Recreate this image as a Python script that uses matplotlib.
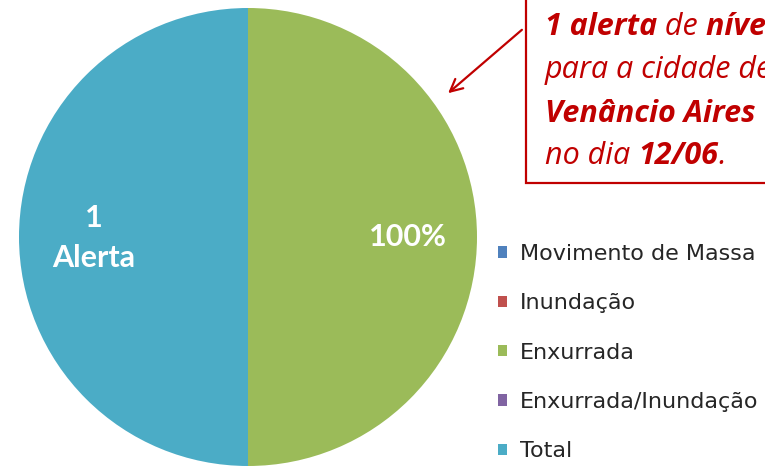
import matplotlib
matplotlib.use("Agg")
import matplotlib.pyplot as plt
from matplotlib.patches import Rectangle

categories = ['Movimento de Massa', 'Inundação', 'Enxurrada', 'Enxurrada/Inundação', 'Total']
values = [0, 0, 1, 0, 1]
colors = ['#4F81BD', '#C0504D', '#9BBB59', '#8064A2', '#4BACC6']
slice_labels = ['', '', '100%', '', '1\nAlerta']

W, H = 765, 468
fig = plt.figure(figsize=(W / 100, H / 100), dpi=100)
ax = fig.add_axes([0, 0, 1, 1])

def Y(y):
    return H - y

cx, cy, r = 248, 237, 229
wedges, texts = ax.pie(values, colors=colors, labels=slice_labels, startangle=90,
                       counterclock=False, center=(cx, Y(cy)), radius=r,
                       labeldistance=0.70, frame=True,
                       textprops=dict(color='white', fontsize=22, fontweight='bold',
                                      family='Lato', linespacing=1.55),
                       wedgeprops=dict(linewidth=0))
ax.set_xlim(0, W)
ax.set_ylim(0, H)
ax.set_aspect('equal')
ax.axis('off')
for t in texts:
    t.set_ha('center')
    t.set_va('center')
    if '\n' in t.get_text():
        x0, y0 = t.get_position()
        t.set_position((x0 + 6, y0 - 1))

leg = ax.legend(wedges, categories, loc='upper left',
                bbox_to_anchor=(498, Y(244)), bbox_transform=ax.transData,
                frameon=False, prop=dict(family='DejaVu Sans', size=16),
                handlelength=0.4, handleheight=0.4, handletextpad=0.6,
                labelspacing=1.32, borderpad=0, borderaxespad=0)
for t in leg.get_texts():
    t.set_color('#262626')

red = '#C00000'
ax.add_patch(Rectangle((526, Y(183)), 400, 300, facecolor='white', edgecolor=red,
                       linewidth=1.6, zorder=3))
ax.annotate('', xy=(446, Y(95)), xytext=(524, Y(28)),
            arrowprops=dict(arrowstyle='->', color=red, lw=1.6, mutation_scale=22),
            zorder=4)

lines = [
    [('Foi emitido apenas', 'normal')],
    [('1 alerta', 'bold'), (' de ', 'normal'), ('nível moderado', 'bold')],
    [('para a cidade de', 'normal')],
    [('Venâncio Aires', 'bold')],
    [('no dia ', 'normal'), ('12/06', 'bold'), ('.', 'normal')],
]
baselines = [-8, 35, 78, 122, 164]
fig.canvas.draw()
renderer = fig.canvas.get_renderer()
for runs, yb in zip(lines, baselines):
    x = 545
    for txt, wt in runs:
        t = ax.text(x, Y(yb), txt, color=red, fontsize=22, family='Open Sans',
                    style='italic', fontweight=wt, va='baseline', ha='left', zorder=5)
        bb = t.get_window_extent(renderer=renderer)
        x += bb.width

fig.savefig('out.png', dpi=100)
